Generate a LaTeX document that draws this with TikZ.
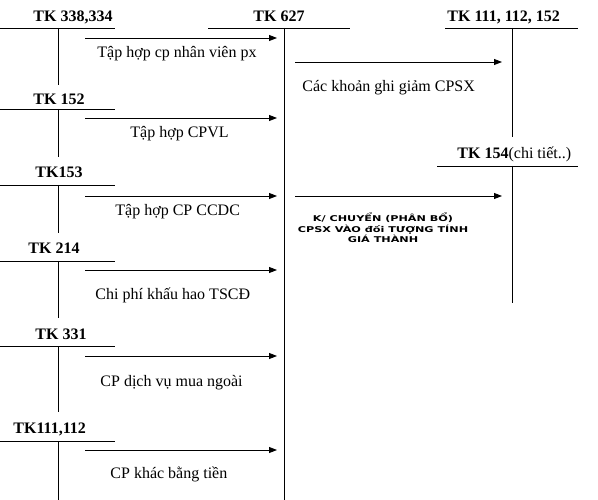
\documentclass[tikz,border=0pt]{standalone}
\usepackage{fontspec}
\setmainfont{Liberation Serif}
\newfontfamily\capsfont{DejaVu Sans}
\usetikzlibrary{arrows.meta}
\begin{document}
\begin{tikzpicture}[x=1pt,y=-1pt,line width=0.9pt,
  acct/.style={font=\bfseries\fontsize{16}{19}\selectfont,inner sep=0pt,anchor=base west},
  lbl/.style={font=\fontsize{16}{19}\selectfont,inner sep=0pt,anchor=base west},
  arr/.style={-{Triangle[length=8pt,width=6pt]}},
  capsnote/.style={font=\capsfont\bfseries\fontsize{8}{10.5}\selectfont,align=center,inner sep=0pt,xscale=1.4,transform shape}]
\useasboundingbox (0,0) rectangle (598,500);

% TK 627 (centre)
\node[acct] (t627) at (253,22) {TK 627};
\coordinate (h627a) at (208,28); \coordinate (h627b) at (350,28);
\coordinate (v627a) at (284,28); \coordinate (v627b) at (284,500);
\draw (h627a) -- (h627b); \draw (v627a) -- (v627b);

% TK 111,112,152
\node[acct] (t111) at (447,22) {TK 111, 112, 152};
\coordinate (h111a) at (445,28); \coordinate (h111b) at (578,28);
\coordinate (v111a) at (512,28); \coordinate (v111b) at (512,137);
\draw (h111a) -- (h111b); \draw (v111a) -- (v111b);

% TK 154
\node[acct] (t154) at (457,159) {TK 154{\mdseries(chi tiết..)}};
\coordinate (h154a) at (437,166); \coordinate (h154b) at (578,166);
\coordinate (v154a) at (512,166); \coordinate (v154b) at (512,303);
\draw (h154a) -- (h154b); \draw (v154a) -- (v154b);

% right arrows
\coordinate (r1a) at (295,62); \coordinate (r1b) at (502,62);
\draw[arr] (r1a) -- (r1b);
\node[lbl] (l7) at (302,92) {Các khoản ghi giảm CPSX};
\coordinate (r2a) at (295,196); \coordinate (r2b) at (502,196);
\draw[arr] (r2a) -- (r2b);
\node[capsnote] (l8) at (383,228) {K/ CHUYỂN (PHÂN BỔ)\\CPSX VÀO đối TƯỢNG TÍNH\\GIÁ THÀNH};

% left accounts
\foreach \name/\txt/\tx/\base/\hy/\vy/\ay/\lx/\ly/\lt in {
  a1/{TK 338,334}/33/22/28/85/38/97/58/{Tập hợp cp nhân viên px},
  a2/{TK 152}/33/105/109/157/118/130/138/{Tập hợp CPVL},
  a3/{TK153}/35/178/185/233/196/115/216/{Tập hợp CP CCDC},
  a4/{TK 214}/28/254/261/318/270/95/300/{Chi phí khấu hao TSCĐ},
  a5/{TK 331}/35/340/346/412/356/100/386/{CP dịch vụ mua ngoài},
  a6/{TK111,112}/13/433/441/500/450/110/478/{CP khác bằng tiền}}{
  \node[acct] (t\name) at (\tx,\base) {\txt};
  \coordinate (h\name a) at (0,\hy); \coordinate (h\name b) at (115,\hy);
  \coordinate (v\name a) at (58,\hy); \coordinate (v\name b) at (58,\vy);
  \draw (h\name a) -- (h\name b); \draw (v\name a) -- (v\name b);
  \coordinate (s\name) at (85,\ay); \coordinate (e\name) at (277,\ay);
  \draw[arr] (s\name) -- (e\name);
  \node[lbl] (l\name) at (\lx,\ly) {\lt};
}
\end{tikzpicture}
\end{document}
